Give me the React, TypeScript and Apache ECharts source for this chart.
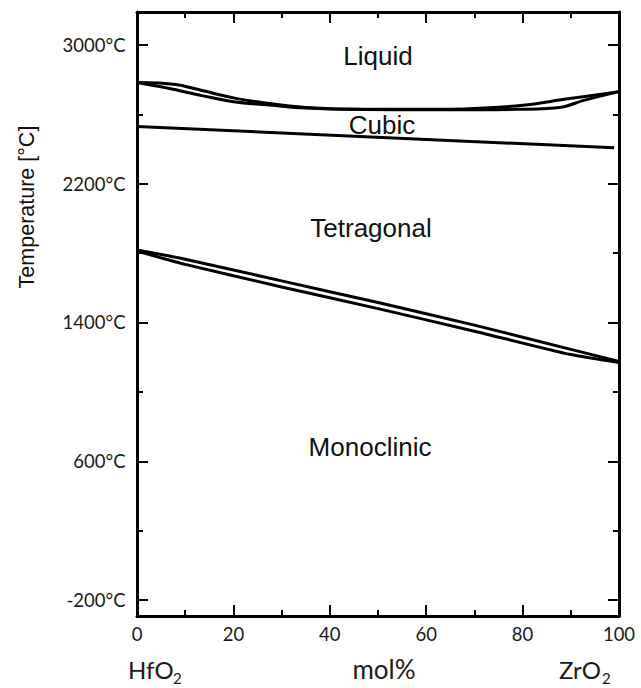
import React, { useEffect, useRef } from "react";
import * as echarts from "echarts";

// Composition axis (mol% ZrO2) and temperature range
const xMin = 0;
const xMax = 100;
const tMin = -292;
const tMax = 3190;

// Temperature ticks
const majorTemps = [-200, 600, 1400, 2200, 3000];
const minorTemps = [200, 1000, 1800, 2600];

// Liquidus (upper boundary of the melting lens)
const liquidusX = [0, 8, 13.5, 20, 27, 35, 47, 60, 70, 80, 89, 100];
const liquidusT = [2783, 2772, 2737, 2695, 2664, 2640, 2629, 2629, 2634, 2652, 2688, 2731];

// Solidus (lower boundary of the melting lens)
const solidusX = [0, 6.5, 13.5, 20, 27, 35, 47, 60, 70, 79, 88, 92.5, 100];
const solidusT = [2783, 2750, 2708, 2673, 2655, 2636, 2628, 2627, 2627, 2629, 2641, 2679, 2731];

// Cubic / tetragonal boundary
const cubicX = [0, 99];
const cubicT = [2530, 2407];

// Tetragonal / monoclinic boundaries (heating and cooling)
const tetUpperX = [0, 10, 30, 50, 70, 90, 100];
const tetUpperT = [1818, 1765, 1640, 1515, 1385, 1245, 1176];
const tetLowerX = [0, 10, 30, 50, 70, 90, 100];
const tetLowerT = [1812, 1735, 1605, 1480, 1350, 1215, 1170];

const zip = (xs: number[], ys: number[]) => xs.map((x, i) => [x, ys[i]]);

const tickFont = "Lato, 'Open Sans', sans-serif";
const labelFont = "'Liberation Sans', Arial, sans-serif";

export default function App() {
  const ref = useRef<HTMLDivElement>(null);

  useEffect(() => {
    if (!ref.current) return;
    const chart = echarts.init(ref.current, undefined, { renderer: "svg" });

    const lineSeries = (name: string, data: number[][], smooth: number | boolean) => ({
      name,
      type: "line",
      data,
      smooth,
      symbol: "none",
      xAxisIndex: 0,
      yAxisIndex: 0,
      lineStyle: { color: "#000", width: 3 },
      silent: true,
    });

    const yBase = {
      type: "value",
      min: tMin,
      max: tMax,
      splitLine: { show: false },
    };
    const xBase = {
      type: "value",
      min: xMin,
      max: xMax,
      interval: 20,
      splitLine: { show: false },
      axisLine: { show: true, onZero: false, lineStyle: { color: "#000", width: 3 } },
      axisTick: { show: true, inside: true, length: 11, lineStyle: { color: "#000", width: 2 } },
      minorTick: { show: true, splitNumber: 2, length: 6, lineStyle: { color: "#000", width: 2 } },
      minorSplitLine: { show: false },
    };

    const regionText = (text: string, x: number, y: number) => ({
      type: "text",
      x,
      y,
      style: {
        text,
        fill: "#111",
        font: `26px ${labelFont}`,
        align: "center",
        verticalAlign: "middle",
      },
      silent: true,
    });

    const plainText = (text: string, x: number, y: number, size: number, align: string) => ({
      type: "text",
      x,
      y,
      style: {
        text,
        fill: "#1a1a1a",
        font: `${size}px ${tickFont}`,
        align,
        verticalAlign: "middle",
      },
      silent: true,
    });

    chart.setOption({
      animation: false,
      backgroundColor: "#fff",
      grid: { left: 137, right: 22, top: 12, bottom: 72, containLabel: false },
      xAxis: [
        {
          ...xBase,
          position: "bottom",
          axisLabel: {
            show: true,
            margin: 8,
            color: "#1a1a1a",
            fontFamily: tickFont,
            fontSize: 18.5,
          },
        },
        {
          ...xBase,
          position: "top",
          axisLabel: { show: false },
        },
      ],
      yAxis: [
        {
          ...yBase,
          position: "left",
          axisLine: { show: true, onZero: false, lineStyle: { color: "#000", width: 3 } },
          axisTick: {
            show: true,
            inside: true,
            length: 11,
            customValues: majorTemps,
            lineStyle: { color: "#000", width: 2 },
          },
          axisLabel: {
            show: true,
            customValues: majorTemps,
            formatter: (v: number) => `${v}°C`,
            margin: 11.5,
            color: "#1a1a1a",
            fontFamily: tickFont,
            fontSize: 18.5,
          },
        },
        {
          ...yBase,
          position: "left",
          axisLine: { show: false, onZero: false },
          axisTick: {
            show: true,
            inside: true,
            length: 6,
            customValues: minorTemps,
            lineStyle: { color: "#000", width: 2 },
          },
          axisLabel: { show: false },
        },
        {
          ...yBase,
          position: "right",
          axisLine: { show: true, onZero: false, lineStyle: { color: "#000", width: 3 } },
          axisTick: {
            show: true,
            inside: true,
            length: 11,
            customValues: majorTemps,
            lineStyle: { color: "#000", width: 2 },
          },
          axisLabel: { show: false },
        },
        {
          ...yBase,
          position: "right",
          axisLine: { show: false, onZero: false },
          axisTick: {
            show: true,
            inside: true,
            length: 6,
            customValues: minorTemps,
            lineStyle: { color: "#000", width: 2 },
          },
          axisLabel: { show: false },
        },
      ],
      series: [
        lineSeries("Liquidus", zip(liquidusX, liquidusT), 0.35),
        lineSeries("Solidus", zip(solidusX, solidusT), 0.35),
        lineSeries("Cubic–tetragonal", zip(cubicX, cubicT), false),
        lineSeries("Tetragonal–monoclinic (heating)", zip(tetUpperX, tetUpperT), 0.2),
        lineSeries("Tetragonal–monoclinic (cooling)", zip(tetLowerX, tetLowerT), 0.2),
      ],
      graphic: [
        regionText("Liquid", 378, 56),
        regionText("Cubic", 382, 125),
        regionText("Tetragonal", 371, 228),
        regionText("Monoclinic", 370, 447),
        {
          type: "text",
          x: 27,
          y: 207,
          rotation: Math.PI / 2,
          style: {
            text: "Temperature [°C]",
            fill: "#111",
            font: `21.5px ${labelFont}`,
            align: "center",
            verticalAlign: "middle",
          },
          silent: true,
        },
        plainText("HfO", 128, 669, 24, "left"),
        plainText("2", 173, 678, 15, "left"),
        plainText("mol%", 384, 669, 26, "center"),
        plainText("ZrO", 559, 669, 24, "left"),
        plainText("2", 602, 678, 15, "left"),
      ],
    });

    return () => chart.dispose();
  }, []);

  return (
    <div
      ref={ref}
      style={{ position: "fixed", left: 0, top: 0, width: 641, height: 688, background: "#fff" }}
    />
  );
}
